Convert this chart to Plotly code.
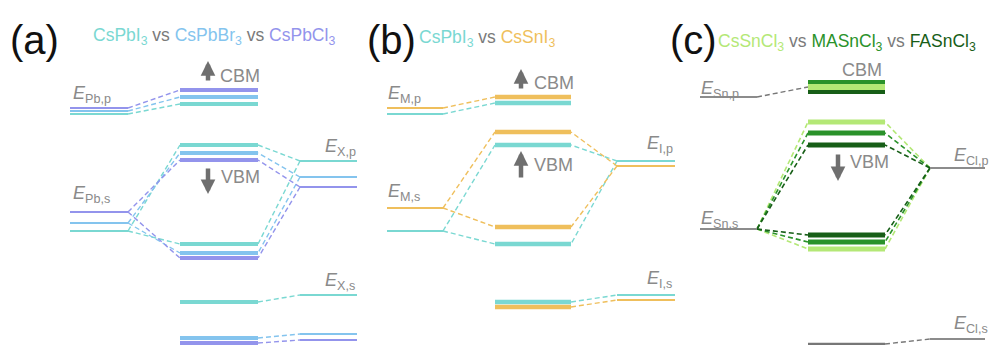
import plotly.graph_objects as go

W, H = 989, 345

# ---------------- colours ----------------
TURQ = "#7ad8d2"   # CsPbI3
BLUE = "#84c4ee"   # CsPbBr3
PURP = "#9394ec"   # CsPbCl3
ORNG = "#efbf5c"   # CsSnI3
LGRN = "#b4e876"   # CsSnCl3
MGRN = "#2a922a"   # MASnCl3
DGRN = "#175e17"   # FASnCl3
GRAY = "#8c8c8c"
TXT = "#8a8a8a"
ARROW = "#6f6f6f"

# ---------------- data (energy-level positions, schematic units; larger = lower) ----------------
# Panel (a): CsPbI3, CsPbBr3, CsPbCl3
a_names = ["CsPbI<sub>3</sub>", "CsPbBr<sub>3</sub>", "CsPbCl<sub>3</sub>"]
a_E_Pb_p = [114, 111, 108]
a_CBM = [104, 97, 90]
a_VBM = [145, 153, 160]
a_E_Pb_s = [231, 223, 212]
a_bond = [244, 253, 258]
a_E_X_p = [161, 177, 187]
a_X_s_mid = [302, 338, 343]
a_E_X_s = [295, 334, 340]

# Panel (b): CsPbI3, CsSnI3
b_names = ["CsPbI<sub>3</sub>", "CsSnI<sub>3</sub>"]
b_E_M_p = [114, 108]
b_CBM = [103, 97]
b_VBM = [145, 132]
b_E_M_s = [231, 208]
b_bond = [244, 227]
b_E_I_p = [161, 166]
b_I_s_mid = [302, 307]
b_E_I_s = [295, 300]

# Panel (c): CsSnCl3, MASnCl3, FASnCl3
c_names = ["CsSnCl<sub>3</sub>", "MASnCl<sub>3</sub>", "FASnCl<sub>3</sub>"]
c_CBM = [87, 82, 92]
c_VBM = [122, 133, 145]
c_bond = [249, 242, 235]
c_E_Sn_p = 97
c_E_Sn_s = 229
c_E_Cl_p = 168
c_Cl_s_mid = 344
c_E_Cl_s = 339

# ---------------- figure ----------------
fig = go.Figure()
DASH = "5px,3px"


def seg(x0, x1, y0, y1, color, width, dash=None):
    fig.add_trace(go.Scatter(
        x=[x0, x1], y=[y0, y1], mode="lines",
        line=dict(color=color, width=width, dash=dash if dash else "solid"),
        hoverinfo="skip", showlegend=False))


def text(x, y, s, size=18, color=TXT, xanchor="left"):
    fig.add_annotation(x=x, y=y, xref="x", yref="y", text=s, showarrow=False,
                       xanchor=xanchor, yanchor="middle",
                       font=dict(size=size, color=color,
                                 family="Liberation Sans, Arial, sans-serif"))


def arrow(x, y_tip, y_tail):
    fig.add_annotation(x=x, y=y_tip, ax=x, ay=y_tail, xref="x", yref="y",
                       axref="x", ayref="y", text="", showarrow=True,
                       arrowhead=2, arrowsize=0.65, arrowwidth=4.5,
                       arrowcolor=ARROW, standoff=0, startstandoff=0)


def draw_panel(cols, colors, Lp, cbm, vbm, Ls, bond, Rp, mid_s, Rs, wl=2.2, wm=4):
    (L0, L1), (M0, M1), (R0, R1) = cols
    n = len(colors)
    # dashed connectors first
    for i in range(n):
        c = colors[i]
        seg(L1, M0, Lp[i], cbm[i], c, 1.4, DASH)
        seg(L1, M0, Ls[i], vbm[i], c, 1.4, DASH)
        seg(L1, M0, Ls[i], bond[i], c, 1.4, DASH)
        seg(R0, M1, Rp[i], vbm[i], c, 1.4, DASH)
        seg(R0, M1, Rp[i], bond[i], c, 1.4, DASH)
        seg(M1, R0, mid_s[i], Rs[i], c, 1.4, DASH)
    for i in range(n):
        c = colors[i]
        seg(L0, L1, Lp[i], Lp[i], c, wl)
        seg(L0, L1, Ls[i], Ls[i], c, wl)
        seg(R0, R1, Rp[i], Rp[i], c, wl)
        seg(R0, R1, Rs[i], Rs[i], c, wl)
        seg(M0, M1, cbm[i], cbm[i], c, wm)
        seg(M0, M1, vbm[i], vbm[i], c, wm)
        seg(M0, M1, bond[i], bond[i], c, wm)
        seg(M0, M1, mid_s[i], mid_s[i], c, wm)


# Panel (a)
a_cols = [(70, 128), (180, 258), (300, 357)]
a_colors = [TURQ, BLUE, PURP]
draw_panel(a_cols, a_colors, a_E_Pb_p, a_CBM, a_VBM, a_E_Pb_s, a_bond,
           a_E_X_p, a_X_s_mid, a_E_X_s)

# Panel (b)
b_cols = [(387, 443), (495, 571), (617, 675)]
b_colors = [TURQ, ORNG]
draw_panel(b_cols, b_colors, b_E_M_p, b_CBM, b_VBM, b_E_M_s, b_bond,
           b_E_I_p, b_I_s_mid, b_E_I_s, wm=4.5)

# Panel (c)
(cL0, cL1), (cM0, cM1), (cR0, cR1) = [(700, 757), (808, 885), (930, 985)]
c_colors = [LGRN, MGRN, DGRN]
seg(cL1, cM0, c_E_Sn_p, c_CBM[0], "#777777", 1.4, DASH)
seg(cM1, cR0, c_Cl_s_mid, c_E_Cl_s, "#777777", 1.4, DASH)
for i in range(3):
    c = c_colors[i]
    seg(cL1, cM0, c_E_Sn_s, c_VBM[i], c, 1.6, DASH)
    seg(cL1, cM0, c_E_Sn_s, c_bond[i], c, 1.6, DASH)
    seg(cR0, cM1, c_E_Cl_p, c_VBM[i], c, 1.6, DASH)
    seg(cR0, cM1, c_E_Cl_p, c_bond[i], c, 1.6, DASH)
seg(cL0, cL1, c_E_Sn_p, c_E_Sn_p, GRAY, 2)
seg(cL0, cL1, c_E_Sn_s, c_E_Sn_s, GRAY, 2)
seg(cR0, cR1, c_E_Cl_p, c_E_Cl_p, GRAY, 2)
seg(cR0, cR1, c_E_Cl_s, c_E_Cl_s, GRAY, 2)
seg(cM0, cM1, c_Cl_s_mid, c_Cl_s_mid, "#777777", 2.5)
seg(cM0, cM1, c_CBM[0], c_CBM[0], c_colors[0], 6)
for i in (1, 2):
    seg(cM0, cM1, c_CBM[i], c_CBM[i], c_colors[i], 4)
for i in range(3):
    seg(cM0, cM1, c_VBM[i], c_VBM[i], c_colors[i], 5)
    seg(cM0, cM1, c_bond[i], c_bond[i], c_colors[i], 5)

# ---------------- panel letters & titles ----------------
for xl, lab in [(34, "(a)"), (391, "(b)"), (693, "(c)")]:
    text(xl, 40, lab, size=40, color="#111111", xanchor="center")

VS = '<span style="color:#7a7a7a"> vs </span>'


def title(names, colors):
    return VS.join(f'<span style="color:{c}">{n}</span>' for n, c in zip(names, colors))


text(91, 36, title(a_names, a_colors), size=17.5)
text(417, 38, title(b_names, b_colors), size=17.5)
text(716, 42, title(c_names, c_colors), size=17.5)

# ---------------- level labels ----------------
def E(sub):
    return f"<i>E</i><sub>{sub}</sub>"


text(71, 94, E("Pb,p"))
text(71, 194, E("Pb,s"))
text(323, 147, E("X,p"))
text(323, 281, E("X,s"))
text(386, 94, E("M,p"))
text(386, 192, E("M,s"))
text(645, 144, E("I,p"))
text(645, 279, E("I,s"))
text(699, 89, E("Sn,p"))
text(699, 219, E("Sn,s"))
text(952, 156, E("Cl,p"))
text(952, 324, E("Cl,s"))

# ---------------- CBM / VBM markers ----------------
arrow(208, 61, 82)
text(218, 76, "CBM")
arrow(208, 194, 167)
text(219, 177, "VBM")
arrow(521, 69, 90)
text(532, 83, "CBM")
arrow(521, 151, 179)
text(532, 165, "VBM")
text(884, 70, "CBM", xanchor="right")
arrow(838, 181, 153)
text(848, 162, "VBM")

fig.update_layout(
    width=W, height=H,
    margin=dict(l=0, r=0, t=0, b=0),
    paper_bgcolor="white", plot_bgcolor="white",
    showlegend=False, hovermode=False,
    xaxis=dict(range=[0, W], visible=False, fixedrange=True),
    yaxis=dict(range=[H, 0], visible=False, fixedrange=True),
)

fig.write_html("out.html", config={"displayModeBar": False},
               post_script="document.body.style.margin='0';")
